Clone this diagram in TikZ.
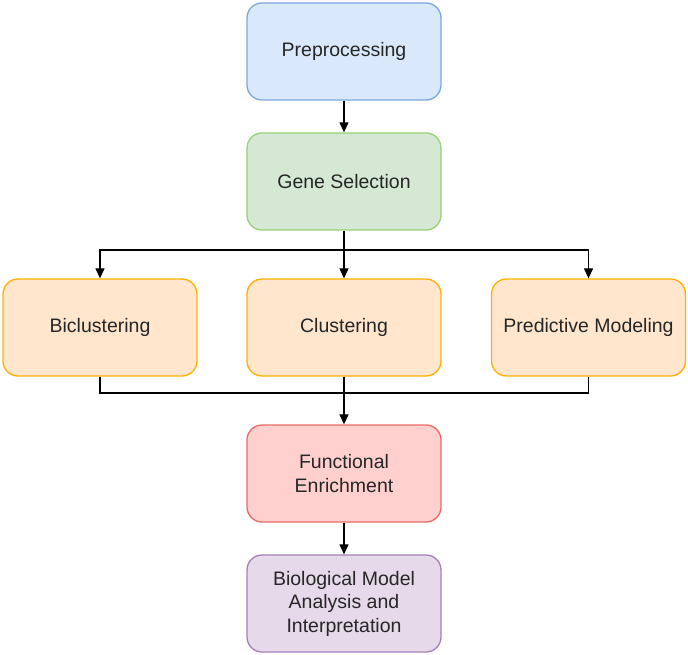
\documentclass[tikz,border=0pt]{standalone}
\usepackage{fontspec}
\setmainfont{Liberation Sans}
\usetikzlibrary{arrows.meta}
\definecolor{bfill}{HTML}{DAE8FC}\definecolor{bdraw}{HTML}{7EA6E0}
\definecolor{gfill}{HTML}{D5E8D4}\definecolor{gdraw}{HTML}{97D077}
\definecolor{ofill}{HTML}{FFE6CC}\definecolor{odraw}{HTML}{FFB000}
\definecolor{rfill}{HTML}{FFD0CE}\definecolor{rdraw}{HTML}{EA6B66}
\definecolor{pfill}{HTML}{E6D9EA}\definecolor{pdraw}{HTML}{A680B8}
\definecolor{txt}{HTML}{262626}
\begin{document}
\begin{tikzpicture}[x=1pt,y=-1pt,
  box/.style={rectangle,rounded corners=15pt,minimum width=194pt,minimum height=97pt,
    line width=1.3pt,align=center,text=txt,font=\fontsize{19.5}{23.5}\selectfont,inner sep=2pt},
  conn/.style={line width=1.2pt,-{Triangle[length=10pt,width=9pt]}},
  plain/.style={line width=1.2pt}]
\useasboundingbox (0,0) rectangle (688,655);
\node[box,fill=bfill,draw=bdraw] (pre) at (344,51.5) {Preprocessing};
\node[box,fill=gfill,draw=gdraw] (gene) at (344,181.5) {Gene Selection};
\node[box,fill=ofill,draw=odraw] (bic) at (100,327.5) {Biclustering};
\node[box,fill=ofill,draw=odraw] (clu) at (344,327.5) {Clustering};
\node[box,fill=ofill,draw=odraw] (pred) at (588.5,327.5) {Predictive Modeling};
\node[box,fill=rfill,draw=rdraw] (fun) at (344,473.5) {Functional\\Enrichment};
\node[box,fill=pfill,draw=pdraw] (bio) at (344,603.5) {Biological Model\\Analysis and\\Interpretation};
\coordinate (split) at (344,250);
\coordinate (merge) at (344,393);
\draw[conn] (pre) -- (gene);
\draw[plain] (gene.south) -- (split);
\draw[conn] (split) -- (clu);
\draw[conn] (split) -| (bic.north);
\draw[conn] (split) -| (pred.north);
\draw[plain] (bic.south) |- (merge);
\draw[plain] (pred.south) |- (merge);
\draw[plain] (clu.south) -- (merge);
\draw[conn] (merge) -- (fun);
\draw[conn] (fun) -- (bio);
\end{tikzpicture}
\end{document}
